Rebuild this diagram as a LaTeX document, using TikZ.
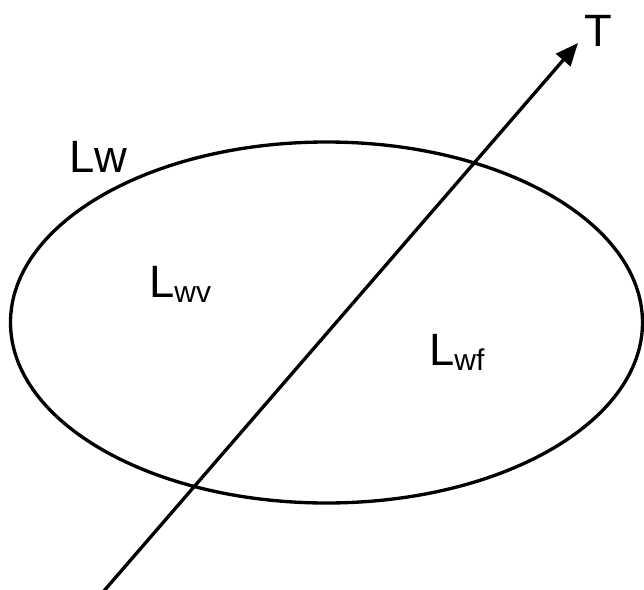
\documentclass[tikz,border=0pt]{standalone}
\usepackage{fontspec}
\setmainfont{Liberation Sans}
\usetikzlibrary{arrows.meta}

\newcommand{\bigtxt}{\fontsize{34}{40}\selectfont}
\newcommand{\subtxt}[1]{\raisebox{-4pt}{\fontsize{22.5}{26}\selectfont #1}}

\begin{document}
\begin{tikzpicture}[x=0.75pt,y=-0.75pt,
        lbl/.style={anchor=base west,inner sep=0pt,font=\bigtxt},
        line/.style={line width=2.5pt}]
        \useasboundingbox (0,0) rectangle (644,590);
        % set of wastes
        \draw[line] (326.5,322.5) ellipse (316 and 180.5);
        \node[lbl] (lw) at (69,172) {Lw};
        \node[lbl] (lwv) at (149,297) {L\subtxt{wv}};
        \node[lbl] (lwf) at (429,365) {L\subtxt{wf}};
        % time axis
        \coordinate (tstart) at (103,592);
        \coordinate (tend) at (578,43);
        \draw[line,-{Triangle[length=17pt,width=14pt]}] (tstart) -- (tend);
        \node[lbl] (t) at (584,46) {T};
\end{tikzpicture}
\end{document}
